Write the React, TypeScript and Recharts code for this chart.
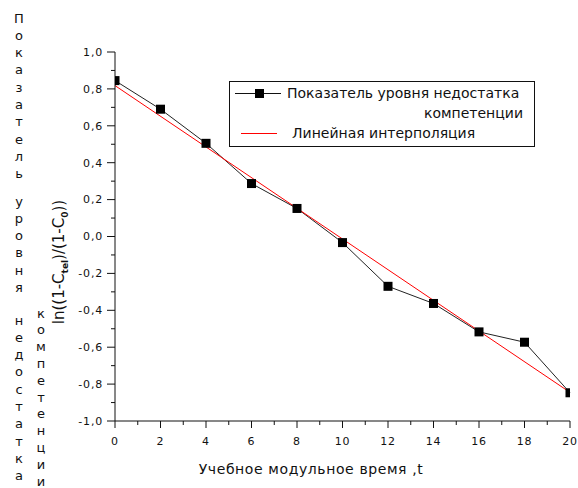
import { LineChart, Line, XAxis, YAxis, Legend } from 'recharts'

// ── Data ─────────────────────────────────────────────────────────────────────
const T = [0, 2, 4, 6, 8, 10, 12, 14, 16, 18, 20]
const DEFICIT = [0.845, 0.69, 0.505, 0.287, 0.152, -0.033, -0.27, -0.363, -0.517, -0.573, -0.847]
const FIT_T = [0, 20]
const FIT = [0.818, -0.845]

const X_TICKS = [0, 1, 2, 3, 4, 5, 6, 7, 8, 9, 10, 11, 12, 13, 14, 15, 16, 17, 18, 19, 20]
const Y_TICKS = [-1, -0.9, -0.8, -0.7, -0.6, -0.5, -0.4, -0.3, -0.2, -0.1, 0, 0.1, 0.2, 0.3, 0.4, 0.5, 0.6, 0.7, 0.8, 0.9, 1]

const SERIES_LINE_1 = 'Показатель уровня недостатка'
const SERIES_LINE_2 = 'компетенции'
const FIT_NAME = 'Линейная интерполяция'
const X_TITLE = 'Учебное модульное время ,t'
const SIDE_WORDS = ['Показатель', 'уровня', 'недостатка']
const SIDE_WORD_2 = 'компетенции'

const FONT = '"DejaVu Sans", Verdana, sans-serif'
const INK = '#111'

// chart frame
const W = 578
const H = 488
const MARGIN = { top: 52, right: 8, bottom: 0, left: 0 }
const Y_AXIS_W = 115
const X_AXIS_H = 67
const PLOT_LEFT = MARGIN.left + Y_AXIS_W
const PLOT_RIGHT = W - MARGIN.right

const seriesData = T.map((t, i) => ({ t, v: DEFICIT[i] }))
const fitData = FIT_T.map((t, i) => ({ t, fit: FIT[i] }))

// ── Ticks with major/minor marks ─────────────────────────────────────────────
const fmtY = (v: number) => v.toFixed(1).replace('.', ',')

function YTick({ x, y, payload }: any) {
  const v = payload.value as number
  const major = Math.round(v * 10) % 2 === 0
  return (
    <g>
      <line x1={x - (major ? 8 : 4)} x2={x} y1={y} y2={y} stroke={INK} />
      {major && (
        <text x={x - 12} y={y} dy="0.35em" textAnchor="end" fontFamily={FONT} fontSize={11} letterSpacing={0.8} fill={INK}>
          {fmtY(v)}
        </text>
      )}
    </g>
  )
}

function XTick({ x, y, payload }: any) {
  const v = payload.value as number
  const major = v % 2 === 0
  return (
    <g>
      <line x1={x} x2={x} y1={y} y2={y + (major ? 7 : 4)} stroke={INK} />
      {major && (
        <text x={x} y={y + 24} textAnchor="middle" fontFamily={FONT} fontSize={11} letterSpacing={0.8} fill={INK}>
          {v}
        </text>
      )}
    </g>
  )
}

const renderYLabel = () => (
  <text transform="translate(64 262) rotate(-90)" textAnchor="middle" fontFamily={FONT} fontSize={15} fill={INK}>
    ln((1-C
    <tspan fontSize={9} fontWeight="bold" dy={4}>tel</tspan>
    <tspan dy={-4}>)/(1-C</tspan>
    <tspan fontSize={9} fontWeight="bold" dy={4}>0</tspan>
    <tspan dy={-4}>))</tspan>
  </text>
)

const renderXLabel = () => (
  <text x={311} y={474} textAnchor="middle" fontFamily={FONT} fontSize={14} letterSpacing={0.6} fill={INK}>
    {X_TITLE}
  </text>
)

// square markers, cut at the plot frame like the original
const Square = (p: any) => {
  const x0 = Math.max(p.cx - 4.5, PLOT_LEFT)
  const x1 = Math.min(p.cx + 4.5, PLOT_RIGHT)
  return <rect key={`sq-${p.index}`} x={x0} y={p.cy - 4.5} width={Math.max(0, x1 - x0)} height={9} fill="#000" />
}

function LegendBox() {
  const row = { position: 'absolute' as const, lineHeight: '18px', whiteSpace: 'nowrap' as const }
  return (
    <div style={{ position: 'relative', width: 306, height: 66, border: `1px solid ${INK}`, boxSizing: 'border-box', background: '#fff', fontFamily: FONT, fontSize: 14, color: INK }}>
      <svg width={306} height={66} style={{ position: 'absolute', left: -1, top: -1 }}>
        <line x1={6} x2={52} y1={12.5} y2={12.5} stroke={INK} />
        <rect x={26} y={8} width={9} height={9} fill="#000" />
        <line x1={12} x2={48} y1={52.5} y2={52.5} stroke="#ff0000" strokeWidth={1.2} />
      </svg>
      <div style={{ ...row, left: 57, top: 2 }}>{SERIES_LINE_1}</div>
      <div style={{ ...row, right: 11, top: 22 }}>{SERIES_LINE_2}</div>
      <div style={{ ...row, left: 62, top: 42 }}>{FIT_NAME}</div>
    </div>
  )
}

// Letters stacked one per line down the left edge
function SideText() {
  const step = 17.3
  const starts = [18, 201, 320]
  const letters: { ch: string; x: number; y: number }[] = []
  SIDE_WORDS.forEach((w, wi) => {
    Array.from(w).forEach((ch, i) => letters.push({ ch, x: 19, y: starts[wi] + i * step }))
  })
  Array.from(SIDE_WORD_2).forEach((ch, i) => letters.push({ ch, x: 41, y: 313 + i * 16.8 }))
  return (
    <svg width={W} height={H} style={{ position: 'absolute', left: 0, top: 0, pointerEvents: 'none' }}>
      {letters.map((l, i) => (
        <text key={i} x={l.x} y={l.y} dy="0.35em" textAnchor="middle" fontFamily={FONT} fontSize={13} fill={INK}>
          {l.ch}
        </text>
      ))}
    </svg>
  )
}

export default function App() {
  return (
    <div style={{ position: 'absolute', left: 0, top: 0, width: W, height: H, background: '#fff' }}>
      <SideText />
      <LineChart width={W} height={H} margin={MARGIN} style={{ position: 'absolute', left: 0, top: 0 }}>
        <XAxis
          type="number"
          dataKey="t"
          domain={[0, 20]}
          ticks={X_TICKS}
          interval={0}
          height={X_AXIS_H}
          tickSize={0}
          tickMargin={0}
          tickLine={false}
          tick={<XTick />}
          axisLine={{ stroke: INK }}
          label={renderXLabel}
        />
        <YAxis
          type="number"
          domain={[-1, 1]}
          ticks={Y_TICKS}
          interval={0}
          width={Y_AXIS_W}
          tickSize={0}
          tickMargin={0}
          tickLine={false}
          tick={<YTick />}
          axisLine={{ stroke: INK }}
          label={renderYLabel}
        />
        <Legend
          layout="vertical"
          align="center"
          verticalAlign="middle"
          content={() => <LegendBox />}
          wrapperStyle={{ left: 229, top: 81, width: 306, height: 66 }}
        />
        <Line
          data={seriesData}
          dataKey="v"
          stroke="#222"
          strokeWidth={1}
          dot={Square}
          activeDot={false}
          isAnimationActive={false}
        />
        <Line
          data={fitData}
          dataKey="fit"
          stroke="#ff0000"
          strokeWidth={1}
          dot={false}
          activeDot={false}
          isAnimationActive={false}
        />
      </LineChart>
    </div>
  )
}
